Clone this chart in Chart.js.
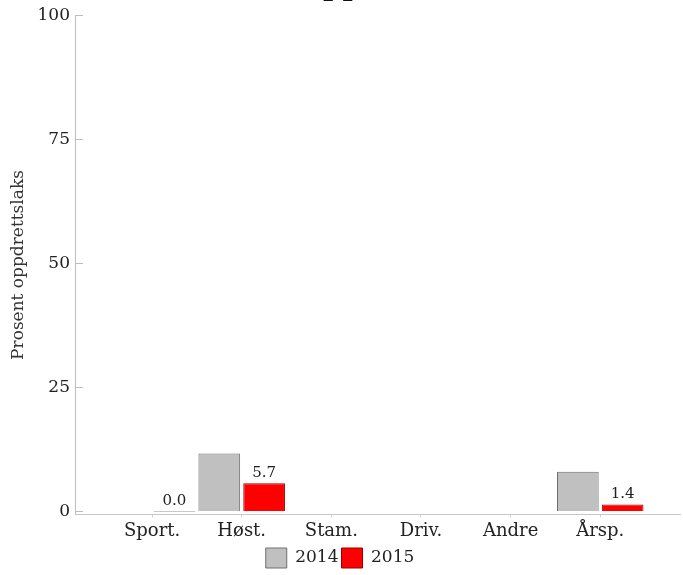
<!DOCTYPE html>
<html>
<head>
<meta charset="utf-8">
<script src="https://cdn.jsdelivr.net/npm/chart.js@4/dist/chart.umd.min.js"></script>
<style>
  html, body { margin: 0; padding: 0; background: #fff; }
  .wrap { width: 683px; height: 575px; overflow: hidden; position: relative; }
  #chart { display: block; margin-top: -29px; }
</style>
</head>
<body>
<div class="wrap">
  <canvas id="chart" width="683" height="607"></canvas>
</div>
<script>
// title is cut off at the top of the picture, only the descenders show
const title = 'Andel av oppdrettslaks';
const yTitle = 'Prosent oppdrettslaks';

const categories = ['Sport.', 'Høst.', 'Stam.', 'Driv.', 'Andre', 'Årsp.'];
const years = ['2014', '2015'];

// null = no bar drawn
const values2014 = [null, 11.7, null, null, null, 8.0];
const values2015 = [0.0, 5.7, null, null, null, 1.4];

const yTicks = [0, 25, 50, 75, 100];

const serif = "'DejaVu Serif', 'Liberation Serif', serif";

const toPoints = vals => vals.map((v, i) => ({ x: i, y: v }));

// labels above the 2015 bars (and the flat line of a zero bar)
const valueLabels = {
  id: 'valueLabels',
  afterDatasetsDraw(chart) {
    const ctx = chart.ctx;
    const meta = chart.getDatasetMeta(1);
    ctx.save();
    ctx.font = '15px ' + serif;
    ctx.fillStyle = '#222';
    ctx.textAlign = 'center';
    ctx.textBaseline = 'bottom';
    meta.data.forEach((bar, i) => {
      const v = values2015[i];
      if (v === null) return;
      if (v === 0) {
        ctx.strokeStyle = '#c8c8c8';
        ctx.lineWidth = 1;
        ctx.beginPath();
        ctx.moveTo(bar.x - bar.width / 2, Math.round(bar.y) + 0.5);
        ctx.lineTo(bar.x + bar.width / 2, Math.round(bar.y) + 0.5);
        ctx.stroke();
      }
      ctx.fillText(v.toFixed(1), bar.x, bar.y - 3);
    });
    ctx.restore();
  }
};

new Chart(document.getElementById('chart'), {
  type: 'bar',
  data: {
    datasets: [
      {
        label: years[0],
        data: toPoints(values2014),
        backgroundColor: '#c0c0c0',
        borderColor: '#6e6e6e',
        borderWidth: 1,
        categoryPercentage: 1.0,
        barPercentage: 0.93
      },
      {
        label: years[1],
        data: toPoints(values2015),
        backgroundColor: '#ff0000',
        borderColor: '#9a0000',
        borderWidth: 1,
        categoryPercentage: 1.0,
        barPercentage: 0.93
      }
    ]
  },
  options: {
    responsive: false,
    animation: false,
    layout: { padding: { left: 0, right: 3, top: 0, bottom: 0 } },
    plugins: {
      title: {
        display: true,
        text: title,
        font: { family: serif, size: 28 },
        color: '#111',
        padding: { top: 0, bottom: 11 }
      },
      legend: {
        position: 'bottom',
        labels: {
          font: { family: serif, size: 17 },
          color: '#222',
          boxWidth: 21,
          boxHeight: 20,
          padding: 3
        }
      },
      tooltip: { enabled: false }
    },
    scales: {
      x: {
        type: 'linear',
        offset: false,
        min: -0.86,
        max: 5.89,
        afterBuildTicks: scale => {
          scale.ticks = categories.map((c, i) => ({ value: i }));
        },
        ticks: {
          callback: v => categories[v],
          font: { family: serif, size: 18 },
          color: '#222',
          padding: 3
        },
        grid: { offset: false, drawOnChartArea: false, tickLength: 3, color: '#d0d0d0' },
        border: { color: '#c8c8c8' }
      },
      y: {
        min: -0.6,
        max: 100,
        afterBuildTicks: scale => {
          scale.ticks = yTicks.map(v => ({ value: v }));
        },
        afterFit: scale => { scale.width = 75; },
        ticks: {
          font: { family: serif, size: 17 },
          color: '#222',
          padding: 13
        },
        grid: { drawOnChartArea: false, tickLength: -8, color: '#bdbdbd' },
        border: { color: '#bdbdbd' },
        title: {
          display: true,
          text: yTitle,
          font: { family: serif, size: 17 },
          color: '#333',
          padding: { top: 8, bottom: 0 }
        }
      }
    }
  },
  plugins: [valueLabels]
});
</script>
</body>
</html>
